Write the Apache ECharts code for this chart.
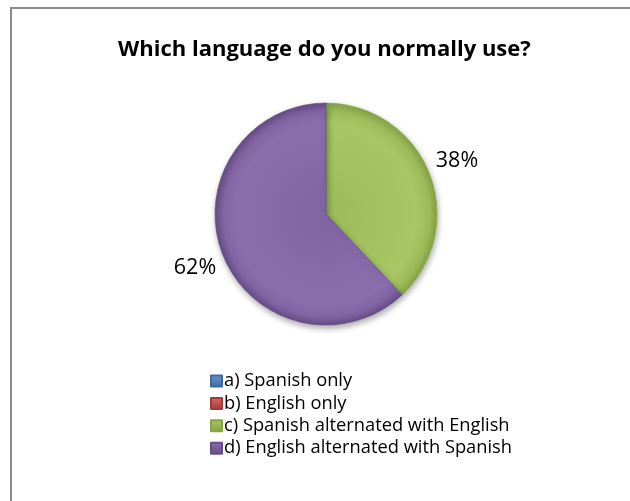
<!DOCTYPE html>
<html>
<head>
<meta charset="utf-8">
<script src="https://cdn.jsdelivr.net/npm/echarts@6/dist/echarts.min.js"></script>
<style>
  html, body { margin: 0; padding: 0; background: #fff; }
  #frame { position: absolute; left: 10px; top: 7px; width: 640px; height: 520px;
           border-left: 2px solid #8c8c8c; border-top: 2px solid #8c8c8c; }
  #chart { position: absolute; left: 0; top: 0; width: 630px; height: 501px; }
</style>
</head>
<body>
<div id="frame"></div>
<div id="chart"></div>
<script>
// Survey answers and their shares (percent)
const categories = [
  'a) Spanish only',
  'b) English only',
  'c) Spanish alternated with English',
  'd) English alternated with Spanish'
];
const shares = [0, 0, 38, 62];
const chartTitle = 'Which language do you normally use?';

// Office-style palette: base colour, light centre and darker rim
const baseColors = ['#4f81bd', '#c0504d', '#9bbb59', '#8064a2'];
const lightColors = ['#6a97d0', '#d46b68', '#a6c763', '#8a6dad'];
const rimColors = ['#3d6aa0', '#a03c3a', '#86a447', '#664c88'];

const FONT = '"Open Sans", "Noto Sans", sans-serif';
const CX = 326, CY = 214, R = 111;

// Shading is laid out around the pie centre so every slice shares one bevel
function shade(i) {
  return {
    type: 'radial', x: CX, y: CY, r: R, global: true,
    colorStops: [
      { offset: 0, color: baseColors[i] },
      { offset: 0.82, color: lightColors[i] },
      { offset: 0.93, color: baseColors[i] },
      { offset: 1, color: rimColors[i] }
    ]
  };
}

// Legend swatches use a small bevelled square
function swatch(i) {
  return {
    type: 'linear', x: 0, y: 0, x2: 0, y2: 1,
    colorStops: [
      { offset: 0, color: lightColors[i] },
      { offset: 1, color: rimColors[i] }
    ]
  };
}

const pieData = categories.map((name, i) => ({
  name,
  value: shares[i],
  itemStyle: { color: shade(i), borderColor: rimColors[i] },
  label: { show: shares[i] > 0 }
}));

const chart = echarts.init(document.getElementById('chart'), null, { renderer: 'canvas' });
chart.setOption({
  backgroundColor: 'transparent',
  animation: false,
  title: {
    text: chartTitle,
    left: 113,
    top: 34,
    textStyle: { fontFamily: FONT, fontSize: 22, fontWeight: 'bold', color: '#000' }
  },
  legend: {
    orient: 'vertical',
    left: 205,
    top: 367,
    itemWidth: 11,
    itemHeight: 11,
    itemGap: 4.4,
    icon: 'rect',
    selectedMode: false,
    textStyle: { fontFamily: FONT, fontSize: 18.3, color: '#000', lineHeight: 16, padding: [0, 0, 0, -3] },
    data: categories.map((name, i) => ({ name, itemStyle: { color: swatch(i) } }))
  },
  series: [{
    type: 'pie',
    center: [CX, CY],
    radius: R,
    startAngle: 90,
    clockwise: true,
    avoidLabelOverlap: false,
    stillShowZeroSum: false,
    itemStyle: {
      borderWidth: 0.6,
      shadowBlur: 6,
      shadowOffsetY: 3,
      shadowOffsetX: 1,
      shadowColor: 'rgba(0,0,0,0.35)'
    },
    label: {
      position: 'outside',
      formatter: p => p.percent.toFixed(0) + '%',
      fontFamily: FONT,
      fontSize: 21.5,
      color: '#000',
      distanceToLabelLine: -25
    },
    labelLine: { show: false, length: 34, length2: 0 },
    emphasis: { disabled: true },
    data: pieData
  }]
});
</script>
</body>
</html>
